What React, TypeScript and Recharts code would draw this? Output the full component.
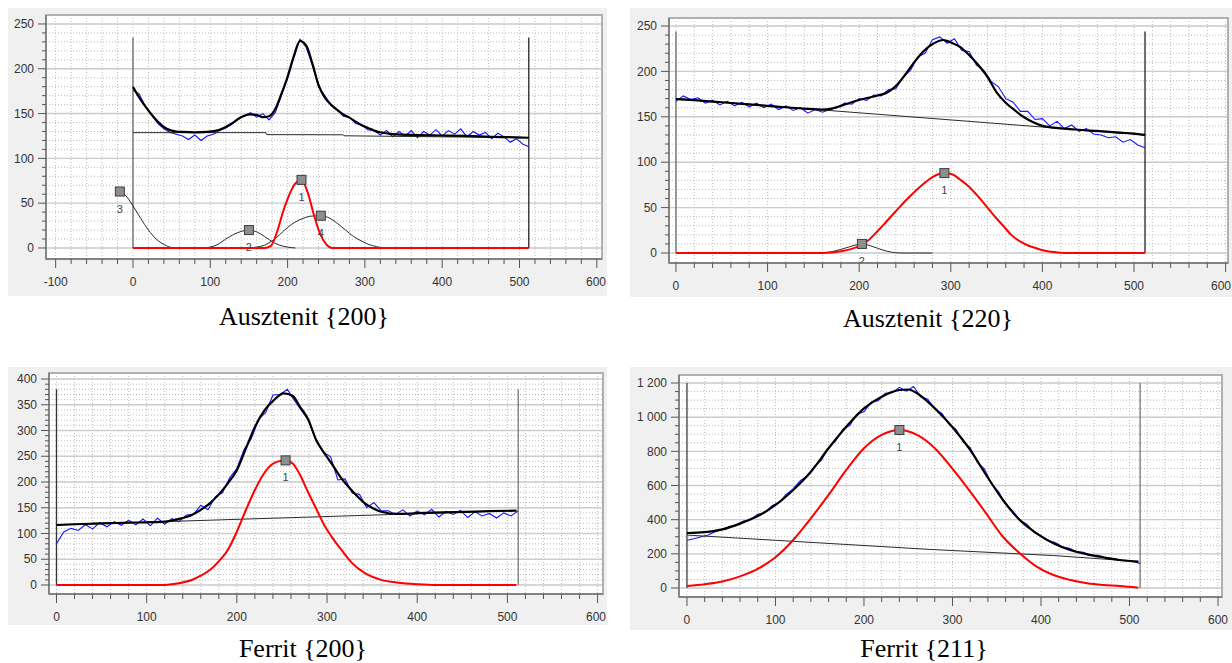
import React from "react";
import {
  CartesianGrid, ComposedChart, Line, ReferenceArea, Scatter, XAxis, YAxis
} from "recharts";

// channel grid used by the measured (blue) curves
const ch8 = [0, 8, 16, 24, 32, 40, 48, 56, 64, 72, 80, 88, 96, 104, 112, 120, 128, 136, 144, 152, 160, 168, 176, 184, 192, 200, 208, 216, 224, 232, 240, 248, 256, 264, 272, 280, 288, 296, 304, 312, 320, 328, 336, 344, 352, 360, 368, 376, 384, 392, 400, 408, 416, 424, 432, 440, 448, 456, 464, 472, 480, 488, 496, 504, 512];
const edgeX = [0, 512];

// ---------- Ausztenit {200}
const a200Meas = [176, 172, 158, 149, 139, 133, 129, 127, 125, 121, 126, 120, 125, 127, 131, 134, 138, 144, 147, 151, 146, 150, 143, 151, 170, 190, 212, 233, 224, 204, 180, 170, 160, 155, 147, 146, 139, 137, 132, 131, 126, 131, 124, 130, 125, 131, 123, 130, 126, 132, 125, 131, 127, 133, 124, 130, 126, 129, 122, 128, 124, 118, 122, 116, 113];
const a200FitX = [0, 8, 16, 24, 32, 40, 48, 56, 64, 80, 96, 112, 120, 128, 136, 144, 152, 160, 168, 176, 184, 192, 200, 208, 216, 224, 232, 240, 248, 256, 264, 272, 280, 288, 296, 304, 312, 320, 328, 336, 368, 400, 432, 464, 496, 512];
const a200Fit = [180, 168, 158, 149, 141, 135, 131.5, 130, 129.5, 129, 129.5, 132, 135, 139, 144, 147.5, 149, 148.5, 146, 147, 155, 172, 191, 214, 231, 226, 206, 182, 168, 160, 154, 149, 145.5, 141, 137, 134, 131, 129, 128, 127, 126, 125.5, 125, 124, 123.5, 123];
const a200BgX = [0, 172, 173, 272, 273, 512];
const a200Bg = [128.7, 128.7, 126.5, 126.3, 125.2, 123];
const a200RedX = [0, 170, 178, 186, 194, 202, 210, 218, 226, 234, 242, 250, 258, 512];
const a200Red = [0, 0, 2, 17, 40, 59, 72, 76, 62, 37, 16, 4, 0, 0];
const a200P2X = [90, 100, 110, 120, 130, 140, 150, 160, 170, 180, 190, 200, 210];
const a200P2 = [0, 1, 4, 10, 15, 18.5, 20, 18, 13, 7, 3, 1, 0];
const a200P3X = [-17, -10, 0, 10, 20, 30, 40, 50, 60];
const a200P3 = [63, 59, 47, 33, 20, 10, 4, 0.5, 0];
const a200P4X = [150, 160, 170, 180, 190, 200, 210, 220, 230, 243, 255, 265, 275, 285, 295, 305, 315, 325, 332];
const a200P4 = [0, 1, 3, 8, 15, 23, 29, 33, 35.5, 36, 33, 27, 20, 13, 8, 4, 1.5, 0, 0];
const a200MarkX = [218, 150, -17, 243];
const a200MarkY = [76, 20, 63, 36];
const a200MarkLbl = ["1", "2", "3", "4"];
const a200EdgeTop = 235;

// ---------- Ausztenit {220}
const a220Meas = [167, 173, 169, 171, 165, 168, 163, 167, 162, 166, 161, 165, 160, 164, 158, 162, 157, 160, 154, 158, 155, 158, 160, 165, 164, 170, 168, 174, 173, 180, 181, 194, 201, 216, 220, 235, 238, 231, 236, 223, 222, 207, 201, 189, 183, 170, 166, 156, 156, 147, 148, 140, 145, 137, 141, 134, 137, 131, 130, 127, 128, 122, 125, 119, 116];
const a220FitX = [0, 20, 40, 60, 80, 100, 120, 140, 160, 170, 180, 190, 200, 210, 220, 230, 240, 250, 260, 270, 280, 292, 300, 310, 320, 330, 340, 350, 360, 370, 380, 390, 400, 412, 430, 448, 466, 485, 500, 512];
const a220Fit = [169.6, 168.3, 166.8, 165.2, 163.7, 162, 160.5, 159, 158, 159, 162, 165.5, 168.5, 171, 173.5, 176.5, 184, 196, 210, 222, 230, 234.6, 232, 227, 218, 207, 194, 177, 165.5, 157, 149.5, 144, 140, 138, 136.5, 135, 134, 132.5, 131.5, 130];
const a220BgX = [0, 512];
const a220Bg = [170, 130];
const a220RedX = [0, 160, 170, 180, 190, 200, 210, 220, 230, 240, 250, 260, 270, 280, 293, 302, 310, 320, 330, 340, 350, 358, 366, 376, 385, 394, 403, 412, 425, 512];
const a220Red = [0, 0, 0.5, 2, 4, 7.5, 14, 24, 35, 46, 57, 67, 76, 83.5, 88, 86.5, 81, 73, 62, 50, 38, 29, 20, 12.5, 8, 5, 2.5, 1, 0, 0];
const a220P2X = [160, 170, 180, 190, 203, 215, 225, 235, 245, 280];
const a220P2 = [0, 1.5, 4, 7, 10, 7, 3.5, 1, 0, 0];
const a220MarkX = [293, 203];
const a220MarkY = [88, 10];
const a220MarkLbl = ["1", "2"];
const a220EdgeTop = 244;

// ---------- Ferrit {200}
const f200Meas = [80, 103, 110, 106, 117, 109, 121, 113, 123, 116, 126, 117, 128, 115, 130, 118, 129, 123, 136, 137, 155, 146, 171, 179, 208, 226, 263, 284, 321, 335, 369, 370, 380, 358, 338, 318, 279, 258, 249, 204, 206, 178, 176, 150, 160, 144, 144, 137, 146, 134, 144, 136, 147, 132, 143, 137, 145, 131, 142, 134, 139, 130, 140, 134, 144];
const f200FitX = [0, 20, 40, 60, 80, 100, 120, 135, 150, 160, 170, 180, 190, 200, 210, 220, 231, 241, 252, 262, 270, 279, 288, 297, 305, 316, 327, 342, 352, 360, 379, 400, 416, 452, 480, 510];
const f200Fit = [116.5, 118, 119, 120, 121, 121.7, 123, 128, 136, 146, 158.6, 176, 197.5, 223, 265, 307, 340, 359, 372, 367, 346, 322, 281.5, 256, 236, 207, 184.5, 158.6, 148, 142.3, 138, 139.5, 140.4, 142, 143.3, 144.5];
const f200BgX = [0, 510];
const f200Bg = [116.5, 144.5];
const f200RedX = [0, 120, 130, 140, 150, 160, 170, 180, 190, 200, 210, 220, 229, 238, 246, 254, 262, 270, 279, 288, 297, 305, 316, 327, 342, 360, 379, 400, 420, 510];
const f200Red = [0, 0, 2, 5, 9.7, 18, 29, 46, 68, 103.5, 145.6, 184.5, 213.6, 233, 240, 242, 236, 214, 180, 148, 116, 94, 68, 44, 23, 10, 4.5, 1.5, 0, 0];
const f200MarkX = [254];
const f200MarkY = [242];
const f200MarkLbl = ["1"];
const f200EdgeTop = 380;

// ---------- Ferrit {211}
const f211Meas = [280, 288, 300, 310, 330, 342, 360, 370, 392, 400, 432, 440, 482, 500, 548, 580, 628, 655, 712, 748, 822, 862, 928, 952, 1018, 1032, 1088, 1096, 1140, 1144, 1175, 1152, 1180, 1120, 1105, 1048, 1022, 960, 928, 855, 822, 735, 698, 610, 565, 492, 452, 398, 374, 326, 305, 278, 266, 241, 232, 214, 209, 193, 191, 177, 174, 164, 162, 155, 143];
const f211FitX = [0, 20, 40, 60, 80, 100, 120, 140, 160, 180, 200, 220, 240, 250, 260, 270, 282, 301, 320, 338, 357, 376, 395, 414, 433, 452, 470, 489, 510];
const f211Fit = [322, 327, 343, 377, 421, 486, 574, 681, 818, 944, 1052, 1120, 1159, 1162, 1140, 1100, 1042, 935, 808, 662, 515, 398, 320, 262, 222, 197, 180, 164, 154];
const f211BgX = [0, 274, 414, 510];
const f211Bg = [310, 226, 190, 155];
const f211RedX = [0, 20, 40, 60, 80, 100, 120, 140, 160, 180, 200, 220, 240, 260, 282, 301, 320, 338, 357, 376, 395, 414, 433, 452, 470, 489, 510];
const f211Red = [12, 22, 38, 68, 112, 180, 281, 408, 545, 691, 818, 896, 925, 896, 808, 691, 564, 437, 300, 203, 125, 76, 47, 27.5, 17.6, 11.7, 2];
const f211MarkX = [240];
const f211MarkY = [925];
const f211MarkLbl = ["1"];
const f211EdgeTop = 1200;

// ---------- ticks
const xTicksWide = [-100, -80, -60, -40, -20, 0, 20, 40, 60, 80, 100, 120, 140, 160, 180, 200, 220, 240, 260, 280, 300, 320, 340, 360, 380, 400, 420, 440, 460, 480, 500, 520, 540, 560, 580, 600];
const xMajorWide = [-100, 0, 100, 200, 300, 400, 500, 600];
const xTicks = [0, 20, 40, 60, 80, 100, 120, 140, 160, 180, 200, 220, 240, 260, 280, 300, 320, 340, 360, 380, 400, 420, 440, 460, 480, 500, 520, 540, 560, 580, 600];
const xMajor = [0, 100, 200, 300, 400, 500, 600];
const yTicks250 = [0, 10, 20, 30, 40, 50, 60, 70, 80, 90, 100, 110, 120, 130, 140, 150, 160, 170, 180, 190, 200, 210, 220, 230, 240, 250];
const yMajor250 = [0, 50, 100, 150, 200, 250];
const yTicks400 = [0, 10, 20, 30, 40, 50, 60, 70, 80, 90, 100, 110, 120, 130, 140, 150, 160, 170, 180, 190, 200, 210, 220, 230, 240, 250, 260, 270, 280, 290, 300, 310, 320, 330, 340, 350, 360, 370, 380, 390, 400];
const yMajor400 = [0, 50, 100, 150, 200, 250, 300, 350, 400];
const yTicks1200 = [0, 50, 100, 150, 200, 250, 300, 350, 400, 450, 500, 550, 600, 650, 700, 750, 800, 850, 900, 950, 1000, 1050, 1100, 1150, 1200];
const yMajor1200 = [0, 200, 400, 600, 800, 1000, 1200];

const zip = (xs: number[], ys: number[]) => xs.map((x, i) => ({ x, y: ys[i] }));
const tickFont = { fontFamily: "Liberation Sans, Arial, sans-serif", fontSize: 12, fill: "#333" };
const spaced = (v: number) =>
  v >= 1000 ? `${Math.floor(v / 1000)} ${String(v % 1000).padStart(3, "0")}` : String(v);

type Box = { left: number; top: number; width: number; height: number };

type PanelProps = {
  box: Box;
  yw: number; xh: number; mt: number; mr: number;
  xDomain: [number, number]; yDomain: [number, number];
  xT: number[]; xM: number[]; yT: number[]; yM: number[];
  meas: number[];
  fit: { x: number; y: number }[];
  bg: { x: number; y: number }[];
  red: { x: number; y: number }[];
  peaks: { x: number; y: number }[][];
  marks: { x: number; y: number; label: string }[];
  edgeTop: number;
  edgeColors: [string, string];
  fmt?: (v: number) => string;
};

const Marker = (s: any) => (
  <g>
    <rect x={s.cx - 4.5} y={s.cy - 4.5} width={9} height={9} fill="#8e8e8e" stroke="#3c3c3c" strokeWidth={1} />
    <text x={s.cx} y={s.cy + 21} textAnchor="middle" style={{ fontFamily: "Liberation Sans, Arial, sans-serif", fontSize: 11, fill: "#444" }}>
      {s.payload.label}
    </text>
  </g>
);

function Panel(p: PanelProps) {
  const fmt = p.fmt ?? ((v: number) => String(v));
  const yMaj = new Set(p.yM);
  const xMaj = new Set(p.xM);

  const YTick = (t: any) => {
    const v = t.payload.value;
    const m = yMaj.has(v);
    return (
      <g>
        <line x1={t.x - (m ? 8 : 4)} x2={t.x} y1={t.y} y2={t.y} stroke="#555" />
        {m && (
          <text x={t.x - 12} y={t.y} dy="0.35em" textAnchor="end" style={tickFont}>{fmt(v)}</text>
        )}
      </g>
    );
  };
  const XTick = (t: any) => {
    const v = t.payload.value;
    const m = xMaj.has(v);
    // keep the last label inside the picture
    const tight = t.x + 11 > p.box.width;
    return (
      <g>
        <line x1={t.x} x2={t.x} y1={t.y} y2={t.y + (m ? 9 : 5)} stroke="#555" />
        {m && (
          <text x={tight ? p.box.width - 1 : t.x} y={t.y + 27} textAnchor={tight ? "end" : "middle"} style={tickFont}>{v}</text>
        )}
      </g>
    );
  };

  const meas = zip(ch8, p.meas);
  const edgeL = zip([edgeX[0], edgeX[0]], [0, p.edgeTop]);
  const edgeR = zip([edgeX[1], edgeX[1]], [0, p.edgeTop]);

  return (
    <div style={{ position: "absolute", left: p.box.left, top: p.box.top, width: p.box.width, height: p.box.height, background: "#f0f0f0" }}>
      <ComposedChart width={p.box.width} height={p.box.height} margin={{ top: p.mt, right: p.mr, left: 0, bottom: 0 }}>
        <CartesianGrid fill="#ffffff" stroke="#bdbdbd" strokeDasharray="1 2" />
        <CartesianGrid xAxisId="m" yAxisId="m" stroke="#cdcdcd" strokeWidth={1.4} />
        <XAxis dataKey="x" type="number" domain={p.xDomain} allowDataOverflow ticks={p.xT} interval={0}
          tick={XTick} tickLine={false} tickSize={0} tickMargin={0} height={p.xh} axisLine={{ stroke: "#555" }} />
        <YAxis type="number" domain={p.yDomain} allowDataOverflow ticks={p.yT} interval={0}
          tick={YTick} tickLine={false} tickSize={0} tickMargin={0} width={p.yw} axisLine={{ stroke: "#777", strokeWidth: 1.5 }} />
        <XAxis xAxisId="m" type="number" domain={p.xDomain} allowDataOverflow ticks={p.xM} interval={0} hide />
        <YAxis yAxisId="m" type="number" domain={p.yDomain} allowDataOverflow ticks={p.yM} interval={0} hide />
        <ReferenceArea x1={p.xDomain[0]} x2={p.xDomain[1]} y1={p.yDomain[0]} y2={p.yDomain[1]} fill="none" stroke="#b0b0b0" strokeWidth={2} />

        <Line data={edgeL} dataKey="y" type="linear" stroke={p.edgeColors[0]} strokeWidth={1.3} dot={false} activeDot={false} isAnimationActive={false} />
        <Line data={edgeR} dataKey="y" type="linear" stroke={p.edgeColors[1]} strokeWidth={1.3} dot={false} activeDot={false} isAnimationActive={false} />
        <Line data={meas} dataKey="y" type="linear" stroke="#1414ff" strokeWidth={1.1} dot={false} activeDot={false} isAnimationActive={false} />
        <Line data={p.bg} dataKey="y" type="linear" stroke="#2a2a2a" strokeWidth={1} dot={false} activeDot={false} isAnimationActive={false} />
        {p.peaks.map((pk, i) => (
          <Line key={i} data={pk} dataKey="y" type="monotone" stroke="#2a2a2a" strokeWidth={1} dot={false} activeDot={false} isAnimationActive={false} />
        ))}
        <Line data={p.red} dataKey="y" type="monotone" stroke="#ff0000" strokeWidth={2} dot={false} activeDot={false} isAnimationActive={false} />
        <Line data={p.fit} dataKey="y" type="monotone" stroke="#000000" strokeWidth={2.2} dot={false} activeDot={false} isAnimationActive={false} />
        <Scatter data={p.marks} dataKey="y" shape={Marker} isAnimationActive={false} />
      </ComposedChart>
    </div>
  );
}

const marks = (xs: number[], ys: number[], ls: string[]) => xs.map((x, i) => ({ x, y: ys[i], label: ls[i] }));

const captionStyle: React.CSSProperties = {
  position: "absolute", width: 300, textAlign: "center", fontFamily: "Liberation Serif, Times New Roman, serif",
  fontSize: 26, lineHeight: "26px", color: "#000", whiteSpace: "nowrap"
};

export default function App() {
  return (
    <div style={{ position: "absolute", left: 0, top: 0, width: 1232, height: 663, background: "#fff", overflow: "hidden" }}>
      <Panel
        box={{ left: 8, top: 8, width: 599, height: 288 }} yw={38} xh={37} mt={7} mr={5}
        xDomain={[-112.5, 606.7]} yDomain={[-12.3, 260]}
        xT={xTicksWide} xM={xMajorWide} yT={yTicks250} yM={yMajor250}
        meas={a200Meas} fit={zip(a200FitX, a200Fit)} bg={zip(a200BgX, a200Bg)} red={zip(a200RedX, a200Red)}
        peaks={[zip(a200P2X, a200P2), zip(a200P3X, a200P3), zip(a200P4X, a200P4)]}
        marks={marks(a200MarkX, a200MarkY, a200MarkLbl)} edgeTop={a200EdgeTop} edgeColors={["#666", "#222"]}
      />
      <Panel
        box={{ left: 630, top: 8, width: 602, height: 289 }} yw={39} xh={34} mt={10} mr={4}
        xDomain={[-7.6, 602.6]} yDomain={[-11, 258.8]}
        xT={xTicks} xM={xMajor} yT={yTicks250} yM={yMajor250}
        meas={a220Meas} fit={zip(a220FitX, a220Fit)} bg={zip(a220BgX, a220Bg)} red={zip(a220RedX, a220Red)}
        peaks={[zip(a220P2X, a220P2)]}
        marks={marks(a220MarkX, a220MarkY, a220MarkLbl)} edgeTop={a220EdgeTop} edgeColors={["#666", "#222"]}
      />
      <Panel
        box={{ left: 8, top: 367, width: 599, height: 258 }} yw={41} xh={31} mt={6} mr={4}
        xDomain={[-8.3, 606]} yDomain={[-17.5, 411.7]}
        xT={xTicks} xM={xMajor} yT={yTicks400} yM={yMajor400}
        meas={f200Meas} fit={zip(f200FitX, f200Fit)} bg={zip(f200BgX, f200Bg)} red={zip(f200RedX, f200Red)}
        peaks={[]}
        marks={marks(f200MarkX, f200MarkY, f200MarkLbl)} edgeTop={f200EdgeTop} edgeColors={["#333", "#777"]}
      />
      <Panel
        box={{ left: 630, top: 367, width: 602, height: 263 }} yw={49} xh={33} mt={8} mr={10}
        xDomain={[-9, 604.5]} yDomain={[-52.7, 1247]}
        xT={xTicks} xM={xMajor} yT={yTicks1200} yM={yMajor1200}
        meas={f211Meas} fit={zip(f211FitX, f211Fit)} bg={zip(f211BgX, f211Bg)} red={zip(f211RedX, f211Red)}
        peaks={[]}
        marks={marks(f211MarkX, f211MarkY, f211MarkLbl)} edgeTop={f211EdgeTop} edgeColors={["#444", "#777"]}
        fmt={spaced}
      />
      <div style={{ ...captionStyle, left: 154, top: 304 }}>Ausztenit {"{200}"}</div>
      <div style={{ ...captionStyle, left: 778, top: 306 }}>Ausztenit {"{220}"}</div>
      <div style={{ ...captionStyle, left: 153, top: 636 }}>Ferrit {"{200}"}</div>
      <div style={{ ...captionStyle, left: 774, top: 636 }}>Ferrit {"{211}"}</div>
    </div>
  );
}
